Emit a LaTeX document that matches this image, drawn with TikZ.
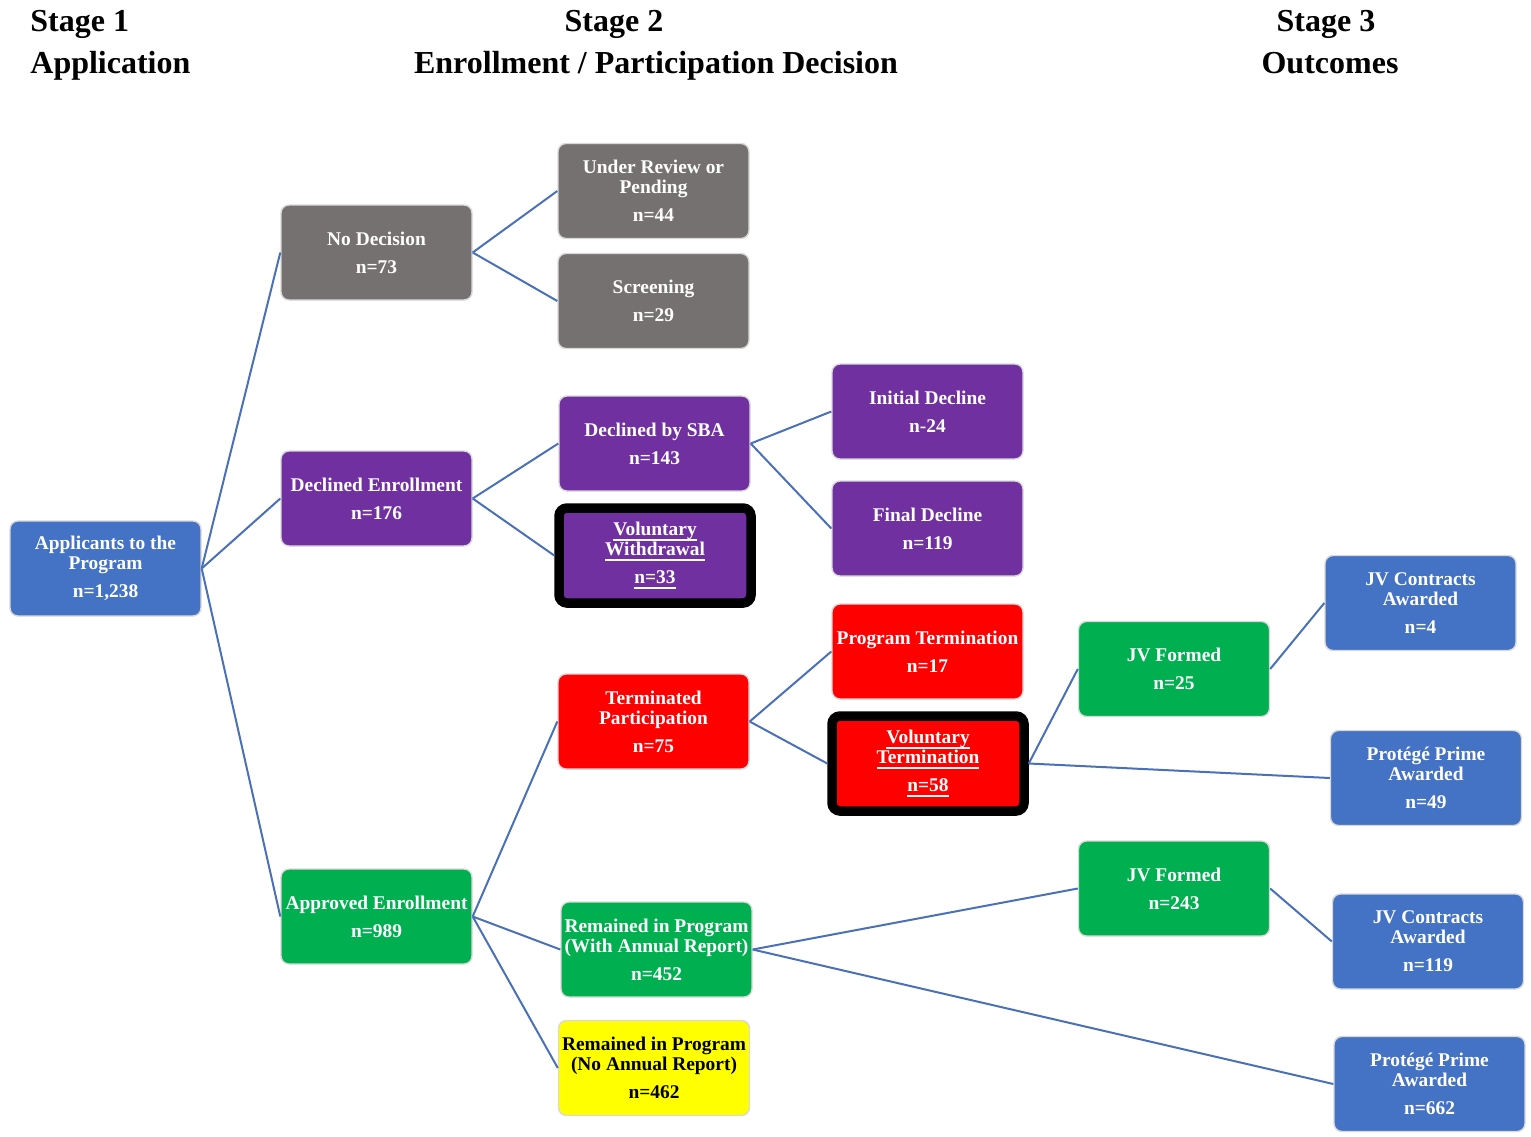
\documentclass[tikz,border=0pt]{standalone}
\usepackage{fontspec}
\setmainfont{Liberation Serif}
\definecolor{cgray}{HTML}{767171}
\definecolor{cpurple}{HTML}{7030A0}
\definecolor{cred}{HTML}{FF0000}
\definecolor{cgreen}{HTML}{00B050}
\definecolor{cblue}{HTML}{4472C4}
\definecolor{cyellow}{HTML}{FFFF00}
\definecolor{linkblue}{HTML}{4A70B8}
\newcommand{\myul}[1]{\setbox0\hbox{#1}\rlap{\rule[-2.3pt]{\wd0}{0.9pt}}\box0}
\begin{document}
\begin{tikzpicture}[x=0.5pt,y=-0.5pt,
  box/.style={rounded corners=4pt, draw=black!15, line width=0.7pt, align=center, text=white,
    font=\fontsize{9.7}{10}\selectfont\bfseries, minimum width=95.5pt, minimum height=47.5pt, inner sep=0pt},
  hbox/.style={box, draw=black, line width=4.75pt, minimum width=96pt, minimum height=47.5pt},
  link/.style={draw=linkblue, line width=1pt},
  stage/.style={font=\fontsize{16}{21}\selectfont\bfseries, inner sep=0pt}]
\useasboundingbox (0,0) rectangle (1531,1136);
% stage titles
\node[stage, anchor=base west] (s1a) at (30,31) {Stage 1};
\node[stage, anchor=base west] (s1b) at (30,73) {Application};
\node[stage, anchor=base] (s2a) at (614,31) {Stage 2};
\node[stage, anchor=base] (s2b) at (656,73) {Enrollment / Participation Decision};
\node[stage, anchor=base] (s3a) at (1326,31) {Stage 3};
\node[stage, anchor=base] (s3b) at (1330,73) {Outcomes};
% stage 1
\node[box, fill=cblue] (app) at (105.5,568.5) {Applicants to the\\Program\\[4pt]n=1,238};
% stage 2 level 1
\node[box, fill=cgray] (nodec) at (376.5,252.5) {No Decision\\[4pt]n=73};
\node[box, fill=cpurple] (declen) at (376.5,498.5) {Declined Enrollment\\[4pt]n=176};
\node[box, fill=cgreen] (apren) at (376.5,916.5) {Approved Enrollment\\[4pt]n=989};
% stage 2 level 2
\node[box, fill=cgray] (underrev) at (653.5,191) {Under Review or\\Pending\\[4pt]n=44};
\node[box, fill=cgray] (screen) at (653.5,301) {Screening\\[4pt]n=29};
\node[box, fill=cpurple] (declsba) at (654.5,443.5) {Declined by SBA\\[4pt]n=143};
\node[hbox, fill=cpurple] (volwd) at (655,555.5) {\myul{Voluntary}\\\myul{Withdrawal}\\[4pt]\myul{n=33}};
\node[box, fill=cred] (termpart) at (653.5,721.5) {Terminated\\Participation\\[4pt]n=75};
\node[box, fill=cgreen] (remar) at (656.5,949.5) {Remained in Program\\(With Annual Report)\\[4pt]n=452};
\node[box, fill=cyellow, text=black] (remnoar) at (654,1068) {Remained in Program\\(No Annual Report)\\[4pt]n=462};
% stage 2 level 3
\node[box, fill=cpurple] (initdecl) at (927.5,411.5) {Initial Decline\\[4pt]n-24};
\node[box, fill=cpurple] (finaldecl) at (927.5,528.5) {Final Decline\\[4pt]n=119};
\node[box, fill=cred] (progterm) at (927.5,651.5) {Program Termination\\[4pt]n=17};
\node[hbox, fill=cred] (volterm) at (928,763.5) {\myul{Voluntary}\\\myul{Termination}\\[4pt]\myul{n=58}};
% stage 3
\node[box, fill=cgreen] (jv1) at (1174,669) {JV Formed\\[4pt]n=25};
\node[box, fill=cgreen] (jv2) at (1174,888.5) {JV Formed\\[4pt]n=243};
\node[box, fill=cblue] (jvc1) at (1420.5,603) {JV Contracts\\Awarded\\[4pt]n=4};
\node[box, fill=cblue] (pp1) at (1426,778) {Protégé Prime\\Awarded\\[4pt]n=49};
\node[box, fill=cblue] (jvc2) at (1428,941.5) {JV Contracts\\Awarded\\[4pt]n=119};
\node[box, fill=cblue] (pp2) at (1429.5,1084) {Protégé Prime\\Awarded\\[4pt]n=662};
% connectors
\draw[link] (app.east) -- (nodec.west);
\draw[link] (app.east) -- (declen.west);
\draw[link] (app.east) -- (apren.west);
\draw[link] (nodec.east) -- (underrev.west);
\draw[link] (nodec.east) -- (screen.west);
\draw[link] (declen.east) -- (declsba.west);
\draw[link] (declen.east) -- (volwd.west);
\draw[link] (declsba.east) -- (initdecl.west);
\draw[link] (declsba.east) -- (finaldecl.west);
\draw[link] (apren.east) -- (termpart.west);
\draw[link] (apren.east) -- (remar.west);
\draw[link] (apren.east) -- (remnoar.west);
\draw[link] (termpart.east) -- (progterm.west);
\draw[link] (termpart.east) -- (volterm.west);
\draw[link] (volterm.east) -- (jv1.west);
\draw[link] (volterm.east) -- (pp1.west);
\draw[link] (jv1.east) -- (jvc1.west);
\draw[link] (remar.east) -- (jv2.west);
\draw[link] (remar.east) -- (pp2.west);
\draw[link] (jv2.east) -- (jvc2.west);
\end{tikzpicture}
\end{document}
